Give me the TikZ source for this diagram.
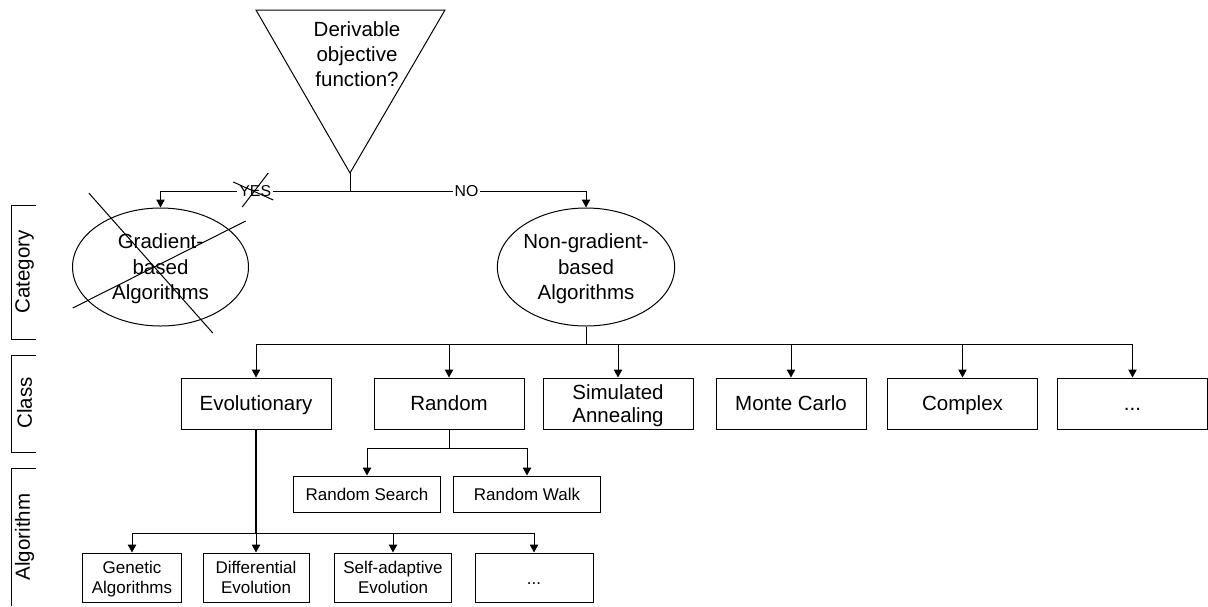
\documentclass[tikz,border=0pt]{standalone}
\usepackage{fontspec}
\setmainfont{Liberation Sans}
\usetikzlibrary{arrows.meta,shapes.geometric}
\newcommand\bigtxt{\fontsize{10.25}{12.5}\selectfont}
\newcommand\smalltxt{\fontsize{8.5}{10}\selectfont}
\newcommand\labtxt{\fontsize{7.9}{9}\selectfont}

\begin{document}
\begin{tikzpicture}[x=0.5pt,y=-0.5pt,line width=0.5pt,>={Triangle[length=4pt,width=4.2pt]},
	classbox/.style={draw,minimum width=75pt,minimum height=25.5pt,inner sep=1pt,text depth=0pt,align=center,font=\fontsize{10.25}{11.5}\selectfont},
	subbox/.style={draw,minimum width=73.5pt,minimum height=18pt,inner sep=1pt,text depth=0pt,align=center,font=\smalltxt},
	algbox/.style={draw,minimum height=24.5pt,inner sep=1pt,text depth=0pt,align=center,font=\smalltxt},
	catnode/.style={draw,ellipse,minimum width=88pt,minimum height=59pt,inner sep=0pt,text depth=0pt,align=center,font=\fontsize{10.25}{12.75}\selectfont},
	dots/.style={text height=0.716em},
	answer/.style={fill=white,inner sep=1pt,font=\labtxt},
	sidelabel/.style={rotate=90,font=\bigtxt}]
				\useasboundingbox (0,0) rectangle (1208,606);
				\coordinate (TL) at (256,10);
				\coordinate (TR) at (445,10);
				\coordinate (apex) at (350,173);

				\draw (TL) -- (TR) -- (apex) -- cycle;
				\node[align=center,text depth=0pt,font=\bigtxt] (question) at (357,54) {Derivable\\objective\\function?};

				\node[catnode] (grad) at (160.5,267) {Gradient-\\based\\Algorithms};
				\node[catnode] (nongrad) at (586,267) {Non-gradient-\\based\\Algorithms};

				\draw (apex) -- ++(0,18) coordinate (fork);
				\draw[->] (fork) -| node[answer,pos=0.25] (yes) {YES} (grad.north);
				\draw[->] (fork) -| node[answer,pos=0.247] (no) {NO} (nongrad.north);
				\draw ([shift={(-22,-9)}]yes.center) -- ([shift={(18,9)}]yes.center);
				\draw ([shift={(13,-18)}]yes.center) -- ([shift={(-13,16)}]yes.center);
				\draw ([shift={(-71.7,-74)}]grad.center) -- ([shift={(52.3,66)}]grad.center);
				\draw ([shift={(85.2,-46)}]grad.center) -- ([shift={(-87.8,41)}]grad.center);

				\node[classbox] (evo) at (256,403.5) {Evolutionary};
				\node[classbox] (random) at (449,403.5) {Random};
				\node[classbox] (simann) at (618,403.5) {Simulated\\Annealing};
				\node[classbox] (montecarlo) at (791,403.5) {Monte Carlo};
				\node[classbox] (complex) at (962.5,403.5) {Complex};
				\node[classbox,dots] (moreclass) at (1132.5,403.5) {...};
				\draw (nongrad.south) -- ++(0,18) coordinate (classfork);
				\foreach \c in {evo,random,simann,montecarlo,complex,moreclass}
					\draw[->] (classfork) -| (\c.north);

				\node[subbox] (rsearch) at (367,494) {Random Search};
				\node[subbox] (rwalk) at (527,494) {Random Walk};
				\draw (random.south) -- ++(0,19) coordinate (randfork);
				\draw[->] (randfork) -| (rsearch.north);
				\draw[->] (randfork) -| (rwalk.north);

				\node[algbox,minimum width=49.5pt] (ga) at (132,577.5) {Genetic\\Algorithms};
				\node[algbox,minimum width=53pt] (de) at (256,577.5) {Differential\\Evolution};
				\node[algbox,minimum width=58.5pt] (sae) at (393,577.5) {Self-adaptive\\Evolution};
				\node[algbox,dots,minimum width=59pt] (morealg) at (534,577.5) {...};
				\draw[line width=1pt] (evo.south) -- ++(0,104) coordinate (evofork);
				\foreach \a in {ga,de,sae,morealg}
					\draw[->] (evofork) -| (\a.north);

				\draw (36,205) -- (11.5,205) -- (11.5,339) -- (36,339);
				\draw (36,355) -- (11.5,355) -- (11.5,452) -- (36,452);
				\draw (36,468) -- (11.5,468) -- (11.5,606);
				\node[sidelabel] (catlabel) at (24.5,272) {Category};
				\node[sidelabel] (classlabel) at (24.5,403) {Class};
				\node[sidelabel] (alglabel) at (24.5,537) {Algorithm};
			\end{tikzpicture}
\end{document}
